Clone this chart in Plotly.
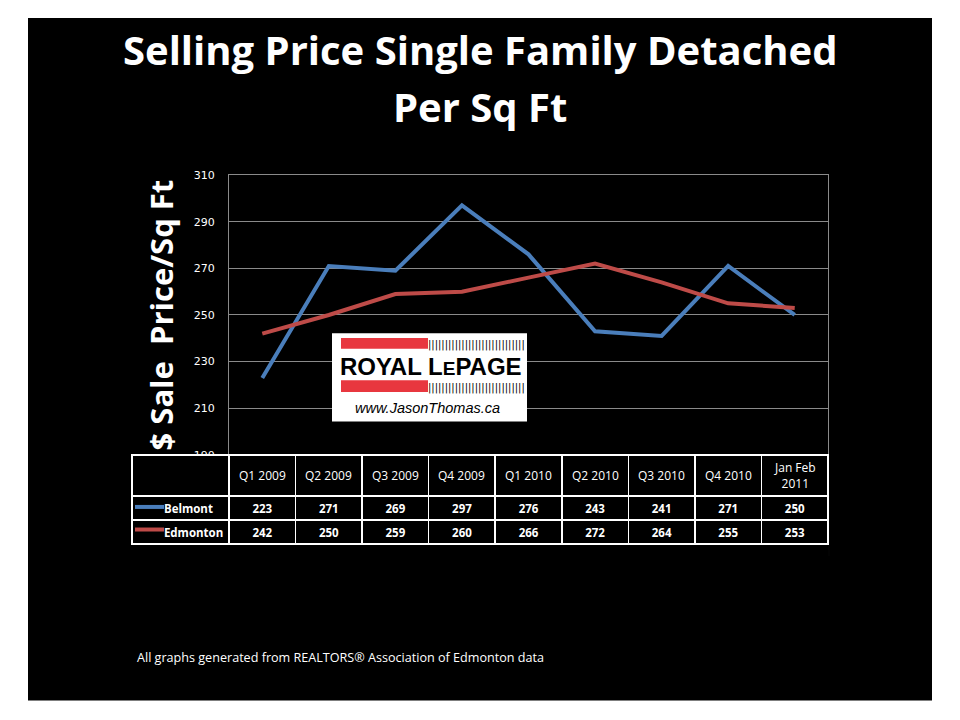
import plotly.graph_objects as go

# data
periods = ["Q1 2009", "Q2 2009", "Q3 2009", "Q4 2009", "Q1 2010",
           "Q2 2010", "Q3 2010", "Q4 2010", "Jan Feb<br>2011"]
belmont = [223, 271, 269, 297, 276, 243, 241, 271, 250]
edmonton = [242, 250, 259, 260, 266, 272, 264, 255, 253]
series_names = ["Belmont", "Edmonton"]
series_colors = ["#4A7EBB", "#BE4B48"]
title_lines = ["Selling Price Single Family Detached", "Per Sq Ft"]

W, H = 960, 720
OFF = 8  # page body margin


def px(x):
    return (x - OFF) / W


def py(y):
    return 1 - (y - OFF) / H


fig = go.Figure()

# black slide background
fig.add_shape(type="rect", xref="paper", yref="paper",
              x0=px(28), x1=px(932), y0=py(707), y1=py(12),
              fillcolor="black", line=dict(width=0), layer="below")

for name, vals, col in zip(series_names, [belmont, edmonton], series_colors):
    fig.add_trace(go.Scatter(
        x=periods, y=vals, mode="lines", name=name,
        line=dict(color=col, width=4),
        hoverinfo="x+y+name"
    ))

# data table under the chart (header labels are drawn on the category axis)
cells = [["\u00a0" * 8 + n for n in series_names]]
for i in range(len(periods)):
    cells.append([str(belmont[i]), str(edmonton[i])])

fig.add_trace(go.Table(
    domain=dict(x=[px(132), px(828)], y=[py(560), py(457)]),
    columnwidth=[97] + [66.56] * 9,
    header=dict(values=[""] * 10, fill_color="black",
                line=dict(color="white", width=1.5),
                font=dict(color="white", size=12, family="Open Sans"),
                align="center", height=41),
    cells=dict(values=cells, fill_color="black",
               line=dict(color="white", width=1.5),
               font=dict(color="white", size=11.5, family="Open Sans", weight="bold"),
               align=["left"] + ["center"] * 9, height=24),
))
for p in periods:
    fig.add_annotation(x=p, y=py(478), xref="x", yref="paper",
                       xanchor="center", yanchor="middle",
                       text=p, showarrow=False,
                       font=dict(color="white", size=12, family="Open Sans"))

# legend swatches inside the table
for i, col in enumerate(series_colors):
    yc = 510 + 23 * i
    fig.add_shape(type="line", xref="paper", yref="paper",
                  x0=px(135), x1=px(164), y0=py(yc), y1=py(yc),
                  line=dict(color=col, width=4))

# mask for the table scrollbar glyph
fig.add_shape(type="rect", xref="paper", yref="paper",
              x0=px(830), x1=px(860), y0=py(600), y1=py(460),
              fillcolor="black", line=dict(width=0))

# Royal LePage logo box
fig.add_shape(type="rect", xref="paper", yref="paper",
              x0=px(332), x1=px(527), y0=py(423), y1=py(333),
              fillcolor="white", line=dict(width=0))
for y0, y1 in [(338, 349), (381, 393)]:
    fig.add_shape(type="rect", xref="paper", yref="paper",
                  x0=px(341), x1=px(428), y0=py(y1), y1=py(y0),
                  fillcolor="#E8373F", line=dict(width=0))
    fig.add_annotation(x=px(476), y=py((y0 + y1) / 2 + 1), xref="paper", yref="paper",
                       xanchor="center", yanchor="middle",
                       text="|" * 29, showarrow=False,
                       font=dict(color="black", size=11, family="DejaVu Sans Condensed"))
fig.add_annotation(x=px(431), y=py(367), xref="paper", yref="paper",
                   xanchor="center", yanchor="middle",
                   text="<b>ROYAL L<span style='font-size:19px'>E</span>PAGE</b>",
                   showarrow=False,
                   font=dict(color="black", size=24, family="Liberation Sans"))
fig.add_annotation(x=px(427), y=py(409), xref="paper", yref="paper",
                   xanchor="center", yanchor="middle",
                   text="<i>www.JasonThomas.ca</i>", showarrow=False,
                   font=dict(color="black", size=14.5, family="Liberation Sans"))

# title and footnote
for line, yc in zip(title_lines, [44, 102]):
    fig.add_annotation(x=px(480), y=py(yc), xref="paper", yref="paper",
                       xanchor="center", yanchor="middle",
                       text="<b>" + line + "</b>", showarrow=False,
                       font=dict(color="white", size=40, family="Open Sans"))
fig.add_annotation(x=px(135), y=py(663), xref="paper", yref="paper",
                   xanchor="left", yanchor="middle",
                   text="All graphs generated from REALTORS\u00ae Association of Edmonton data",
                   showarrow=False,
                   font=dict(color="white", size=12.6, family="Open Sans"))
fig.add_annotation(x=px(161), y=py(315), xref="paper", yref="paper",
                   xanchor="center", yanchor="middle", textangle=-90,
                   text="<b>$ Sale  Price/Sq Ft</b>", showarrow=False,
                   font=dict(color="white", size=31, family="Open Sans"))

fig.update_layout(
    width=W, height=H,
    margin=dict(l=0, r=0, t=0, b=0),
    paper_bgcolor="white",
    plot_bgcolor="#404040",
    showlegend=False,
    xaxis=dict(domain=[px(229), px(828)], range=[-0.5, len(periods) - 0.5],
               showticklabels=False, ticks="",
               showgrid=False, zeroline=False, fixedrange=True,
               showline=True, linecolor="#8A8A8A", mirror=True),
    yaxis=dict(domain=[py(457), py(172)], range=[190, 310], tick0=190, dtick=20,
               gridcolor="#8A8A8A", gridwidth=1, zeroline=False,
               showline=True, linecolor="#8A8A8A", mirror=True,
               tickfont=dict(color="white", size=11, family="DejaVu Sans"),
               ticks="outside", ticklen=11, tickcolor="black"),
)

fig.write_html("out.html")
